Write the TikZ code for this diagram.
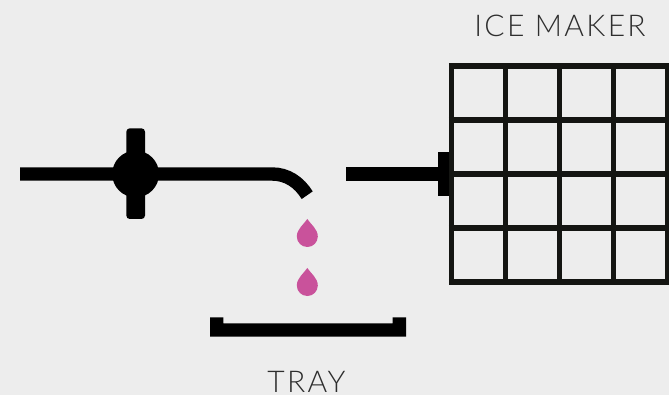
\documentclass[tikz,border=0pt]{standalone}
\usepackage{fontspec}
\setmainfont{Lato}
\newfontfamily\labelfont[LetterSpace=7.7]{Lato Light}
\definecolor{bgcol}{HTML}{EDEDED}
\definecolor{dropcol}{HTML}{C9529B}
\definecolor{gridcol}{HTML}{141512}
\definecolor{labelcol}{HTML}{2E2E2E}
\tikzset{
    pipe/.style={black,line width=13.4pt},
    gridline/.style={gridcol,line width=5.4pt},
    partlabel/.style={labelcol,font=\labelfont\fontsize{30}{30}\selectfont,inner sep=0pt},
}
\begin{document}
\begin{tikzpicture}[x=1pt,y=-1pt]
    \fill[bgcol] (0,0) rectangle (669,395);
    \useasboundingbox (0,0) rectangle (669,395);
    % valve and pipe
    \draw[pipe] (20,174) -- (272,174) .. controls (287,174) and (299,182) .. (307.2,195.2);
    \fill[black] (135.6,174) circle (23.4pt);
    \fill[black,rounded corners=3.5pt] (126.3,128.3) rectangle (145,219);
    % ice maker
    \draw[pipe] (346,174) -- (440,174);
    \fill[black] (438,152.3) rectangle (451,196);
    \foreach \i in {0,...,4}{
        \draw[gridline] (451.5+54*\i,63.3) -- (451.5+54*\i,284.7);
        \draw[gridline] (448.8,66+54*\i) -- (670,66+54*\i);
    }
    % drops
    \foreach \y in {219,268}{
        \fill[dropcol] (307.3,\y) .. controls (310.5,\y+5) and (317.8,\y+10) .. (317.8,\y+17.5)
            .. controls (317.8,\y+23.3) and (313.1,\y+28) .. (307.3,\y+28)
            .. controls (301.5,\y+28) and (296.8,\y+23.3) .. (296.8,\y+17.5)
            .. controls (296.8,\y+10) and (304.1,\y+5) .. (307.3,\y);
    }
    % tray
    \fill[black] (210,317.3) -- (223.3,317.3) -- (223.3,323.3) -- (392.7,323.3) -- (392.7,317.3)
        -- (406,317.3) -- (406,336.7) -- (210,336.7) -- cycle;
    \node[partlabel,anchor=base] (icemaker) at (560,37) {ICE MAKER};
    \node[partlabel,anchor=base] (tray) at (306.5,392.5) {TRAY};
\end{tikzpicture}
\end{document}
